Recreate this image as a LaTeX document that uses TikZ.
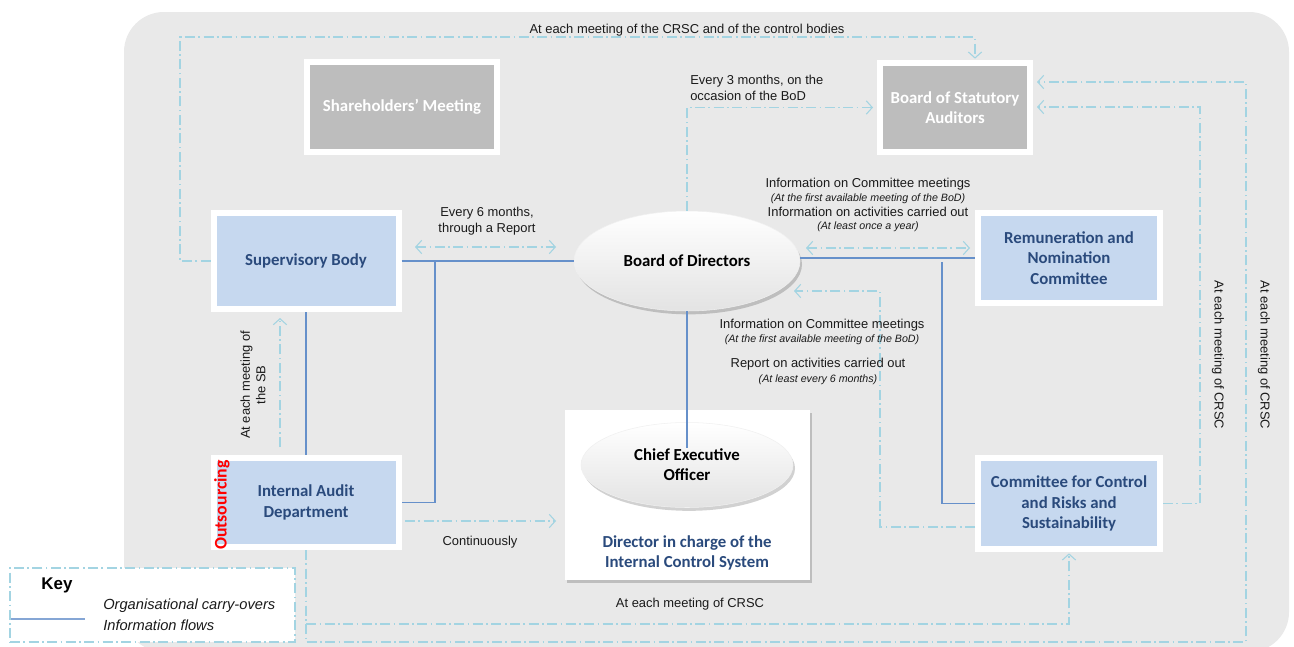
\documentclass[tikz,border=0pt]{standalone}
\usepackage{fontspec}
\setmainfont{Liberation Sans}
\newfontfamily\boxfont{Carlito}
\usetikzlibrary{arrows.meta,shapes.geometric,shadows,calc}
\definecolor{bgcol}{HTML}{E9E9E9}
\definecolor{boxblue}{HTML}{C6D8EF}
\definecolor{darkblue}{HTML}{2A4A7C}
\definecolor{boxgray}{HTML}{BDBDBD}
\definecolor{infoblue}{HTML}{A3D4E2}
\definecolor{orgblue}{HTML}{6690CA}
\definecolor{txt}{HTML}{1A1A1A}
\tikzset{
  shad/.style={drop shadow={shadow xshift=1.5pt, shadow yshift=-2.5pt, opacity=0.18, fill=black}},
  box/.style={draw=white, line width=4.5pt, fill=boxblue, text=darkblue, align=center,
    font=\boxfont\bfseries\fontsize{12.6}{15.4}\selectfont, shad},
  graybox/.style={box, fill=boxgray, text=white},
  oval/.style={ellipse, draw=white!94!black, line width=0.4pt, top color=white, bottom color=black!11,
    text=black, align=center, font=\boxfont\bfseries\fontsize{12.6}{15}\selectfont, shad},
  info/.style={draw=infoblue, line width=0.8pt, dash pattern=on 7.5pt off 2.6pt on 1.2pt off 2.6pt},
  infoarrow/.style={info, -{Straight Barb[length=4.5pt,width=10pt]}},
  infoboth/.style={info, {Straight Barb[length=4.5pt,width=10pt]}-{Straight Barb[length=4.5pt,width=10pt]}},
  org/.style={draw=orgblue, line width=1.1pt},
  lbl/.style={font=\fontsize{9.7}{11.6}\selectfont, text=txt, align=center, inner sep=0pt},
  sml/.style={font=\itshape\fontsize{8}{9}\selectfont, text=txt, align=center, inner sep=0pt}
}
\begin{document}
\begin{tikzpicture}[x=0.75pt,y=-0.75pt]
\useasboundingbox (0,0) rectangle (1294,646);
\fill[white] (0,0) rectangle (1294,646);
\fill[bgcol, rounded corners=30pt] (124,12) rectangle (1289,652);

% coordinates for free connector ends
\coordinate (c1) at (180,37);
\coordinate (r1) at (1200,107);
\coordinate (r2) at (1246,82);
\coordinate (b1) at (306,642);
\coordinate (b2) at (1069,624);
\coordinate (m1) at (880,291);
\coordinate (m2) at (794,291);
\coordinate (d1) at (415,247);
\coordinate (d2) at (556,247);
\coordinate (d3) at (806,248);
\coordinate (d4) at (970,248);
\coordinate (a1) at (405,521);
\coordinate (a2) at (556,521);
\coordinate (s1) at (280,447);
\coordinate (s2) at (280,318);
\coordinate (j1) at (435,262);
\coordinate (j2) at (942,262);
\coordinate (ceoend) at (687,448);

% boxes
\node[graybox, minimum width=142.5pt, minimum height=67.5pt] (SHM) at (402,107) {Shareholders’ Meeting};
\node[graybox, minimum width=112.5pt, minimum height=66.75pt] (BSA) at (955,107.5) {Board of Statutory\\Auditors};
\node[box, minimum width=138.75pt, minimum height=72pt] (SB) at (306,261) {Supervisory Body};
\node[box, minimum width=138.75pt, minimum height=66.75pt] (IAD) at (306,502.5) {Internal Audit\\Department};
\node[box, minimum width=136.5pt, minimum height=67.5pt] (RNC) at (1069,258) {Remuneration and\\Nomination\\Committee};
\node[box, minimum width=136.5pt, minimum height=68.25pt] (CRSC) at (1069,503.5) {Committee for Control\\and Risks and\\Sustainability};
\node[fill=white, minimum width=183.75pt, minimum height=127.5pt, shad] (CEOBOX) at (687.5,495) {};
\node[oval, minimum width=169.5pt, minimum height=75pt] (BoD) at (687,261) {Board of Directors};
\node[oval, minimum width=159pt, minimum height=63.75pt] (CEO) at (687,465) {Chief Executive\\Officer};
\node[text=darkblue, align=center, font=\boxfont\bfseries\fontsize{12.6}{15}\selectfont] (DIR) at (687,553) {Director in charge of the\\Internal Control System};
\node[rotate=90, text=red, inner sep=0pt, font=\boxfont\bfseries\fontsize{13.3}{13}\selectfont] (OUT) at (222,505) {Outsourcing};

% organisational carry-overs
\draw[org] (SB.east) -- (SB.east -| BoD.west);
\draw[org] (RNC.west -| BoD.east) -- (RNC.west);
\draw[org] (j1) |- (IAD.east);
\draw[org] (j2) |- (CRSC.west);
\draw[org] (SB.south) -- (IAD.north);
\draw[org] (BoD.south) -- (ceoend);

% information flows
\draw[infoarrow, shorten >=1pt] (SB.west) -| (c1) -| ([xshift=15pt]BSA.north);
\draw[infoarrow, shorten >=3pt] (BoD.north) |- (BSA.west);
\draw[infoboth] (d1) -- (d2);
\draw[infoboth] (d3) -- (d4);
\draw[infoarrow] ([yshift=-17.6pt]CRSC.west) -| (m1) -- (m2);
\draw[infoarrow] (a1) -- (a2);
\draw[infoarrow] (s1) -- (s2);
\draw[infoarrow, shorten >=3pt] (CRSC.east) -| (r1) -- (r1 -| BSA.east);
\draw[infoarrow, shorten >=3pt] (IAD.south) -- (b1) -| (r2) -- (r2 -| BSA.east);
\draw[infoarrow, shorten >=1pt] (IAD.south) |- (b2) -- (CRSC.south);

% labels
\node[lbl] (L1) at (687,30) {At each meeting of the CRSC and of the control bodies};
\node[lbl, align=left, anchor=west] (L2) at (690,88) {Every 3 months, on the\\occasion of the BoD};
\node[lbl] (L3) at (487,221) {Every 6 months,\\through a Report};
\node[lbl] (L4a) at (868,184) {Information on Committee meetings};
\node[sml] (L4b) at (868,199) {(At the first available meeting of the BoD)};
\node[lbl] (L4c) at (868,212) {Information on activities carried out};
\node[sml] (L4d) at (868,227) {(At least once a year)};
\node[lbl] (L5a) at (822,325) {Information on Committee meetings};
\node[sml] (L5b) at (822,340) {(At the first available meeting of the BoD)};
\node[lbl] (L5c) at (818,364) {Report on activities carried out};
\node[sml] (L5d) at (818,380) {(At least every 6 months)};
\node[lbl, rotate=90] (L6) at (253,385) {At each meeting of\\the SB};
\node[lbl] (L7) at (480,542) {Continuously};
\node[lbl] (L8) at (690,604) {At each meeting of CRSC};
\node[lbl, rotate=-90] (L9) at (1218,355) {At each meeting of CRSC};
\node[lbl, rotate=-90] (L10) at (1264,355) {At each meeting of CRSC};

% key
\node[info, fill=white, minimum width=213.75pt, minimum height=55.5pt] (KEY) at (152.5,605) {};
\coordinate (k1) at (11,619);
\coordinate (k2) at (85,619);
\node[font=\bfseries\fontsize{12.7}{14}\selectfont, inner sep=0pt] (KT) at (57,585) {Key};
\draw[org, line width=0.9pt, draw=orgblue!80] (k1) -- (k2);
\node[font=\itshape\fontsize{11}{13}\selectfont, anchor=west, inner sep=0pt, text=txt] (K1) at (103,606) {Organisational carry-overs};
\node[font=\itshape\fontsize{11}{13}\selectfont, anchor=west, inner sep=0pt, text=txt] (K2) at (103,625) {Information flows};
\end{tikzpicture}
\end{document}
